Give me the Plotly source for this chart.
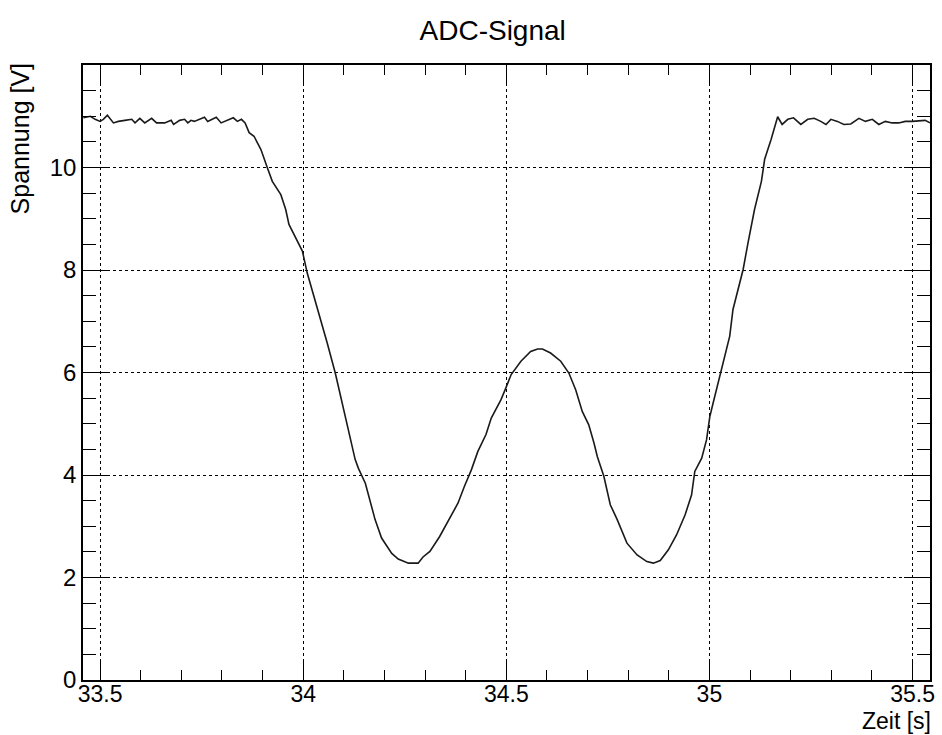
import plotly.graph_objects as go

# Data
zeit = [
    33.459, 33.476, 33.488, 33.500, 33.508, 33.518, 33.533, 33.545, 33.561, 33.578,
    33.586, 33.598, 33.610, 33.627, 33.639, 33.659, 33.675, 33.681, 33.696, 33.708,
    33.716, 33.724, 33.732, 33.745, 33.757, 33.765, 33.777, 33.786, 33.798, 33.814,
    33.828, 33.838, 33.848, 33.857,
    33.867, 33.879, 33.896, 33.912, 33.924, 33.945, 33.957, 33.965, 33.981, 33.998,
    34.010, 34.034, 34.059, 34.079, 34.100, 34.116, 34.128, 34.136, 34.153, 34.177,
    34.193, 34.218, 34.234, 34.259, 34.283, 34.295, 34.312, 34.336, 34.357, 34.381,
    34.397, 34.414, 34.430, 34.450, 34.463, 34.487, 34.499, 34.512, 34.536, 34.560,
    34.577, 34.589, 34.609, 34.634, 34.654, 34.671, 34.687, 34.703, 34.716, 34.724,
    34.740, 34.756, 34.773, 34.797, 34.822, 34.846, 34.862, 34.879, 34.899, 34.919,
    34.940, 34.956, 34.964, 34.981, 34.993, 35.001, 35.009, 35.025, 35.038, 35.050,
    35.058, 35.070, 35.083, 35.095, 35.111, 35.128, 35.136, 35.152, 35.168, 35.179,
    35.193, 35.207, 35.225, 35.242, 35.258, 35.274, 35.287, 35.299, 35.315, 35.331,
    35.348, 35.368, 35.384, 35.401, 35.417, 35.433, 35.450, 35.466, 35.482, 35.499,
    35.519, 35.531, 35.543,
]
spannung = [
    10.97, 11.00, 10.94, 10.90, 10.94, 11.02, 10.87, 10.90, 10.92, 10.94,
    10.87, 10.96, 10.87, 10.96, 10.87, 10.87, 10.92, 10.84, 10.92, 10.94,
    10.87, 10.92, 10.90, 10.94, 10.98, 10.90, 10.94, 10.98, 10.87, 10.92,
    10.97, 10.90, 10.94, 10.87,
    10.68, 10.61, 10.35, 9.99, 9.73, 9.47, 9.18, 8.89, 8.63, 8.37,
    7.94, 7.29, 6.58, 5.99, 5.27, 4.75, 4.30, 4.13, 3.84, 3.13,
    2.77, 2.47, 2.36, 2.28, 2.28, 2.40, 2.51, 2.80, 3.09, 3.45,
    3.78, 4.10, 4.46, 4.79, 5.11, 5.47, 5.70, 5.96, 6.22, 6.41,
    6.46, 6.46, 6.38, 6.22, 5.99, 5.66, 5.24, 4.98, 4.62, 4.36,
    3.98, 3.42, 3.13, 2.67, 2.44, 2.31, 2.28, 2.33, 2.54, 2.83,
    3.22, 3.61, 4.07, 4.33, 4.69, 5.14, 5.40, 5.92, 6.38, 6.71,
    7.23, 7.62, 8.01, 8.53, 9.18, 9.73, 10.16, 10.55, 10.99, 10.84,
    10.94, 10.97, 10.84, 10.94, 10.96, 10.90, 10.84, 10.94, 10.90, 10.84,
    10.85, 10.96, 10.90, 10.94, 10.84, 10.90, 10.87, 10.87, 10.90, 10.90,
    10.92, 10.92, 10.87,
]

x_ticks = [33.5, 34, 34.5, 35, 35.5]
x_tick_labels = ["33.5", "34", "34.5", "35", "35.5"]
y_ticks = [0, 2, 4, 6, 8, 10]
y_tick_labels = ["0", "2", "4", "6", "8", "10"]

FONT = "Liberation Sans, Arial, Helvetica, sans-serif"

fig = go.Figure()
fig.add_trace(go.Scatter(
    x=zeit, y=spannung, mode="lines",
    line=dict(color="#1a1a1a", width=1.6),
    showlegend=False, hoverinfo="skip",
))

fig.update_layout(
    width=942, height=735,
    margin=dict(l=83, r=7, t=65, b=55),
    paper_bgcolor="white", plot_bgcolor="white",
    font=dict(family=FONT, color="black"),
    title=dict(text="ADC-Signal", x=0.523, xanchor="center",
               y=1 - 30 / 735, yanchor="middle", yref="container",
               font=dict(size=28, family=FONT, color="black")),
)

fig.update_xaxes(
    range=[33.458, 35.543],
    tickmode="array", tickvals=x_ticks, ticktext=x_tick_labels,
    ticks="inside", ticklen=19, tickwidth=1.3, tickcolor="black",
    minor=dict(dtick=0.1, tick0=33.5, ticks="inside", ticklen=10,
               tickwidth=1.3, tickcolor="black", showgrid=False),
    showline=True, linecolor="black", linewidth=1.5, mirror="allticks",
    showgrid=True, gridcolor="black", gridwidth=1, griddash="dot",
    zeroline=False, ticklabelstandoff=-7,
    tickfont=dict(size=23, family=FONT, color="black"),
)
fig.update_yaxes(
    range=[0, 12],
    tickmode="array", tickvals=y_ticks, ticktext=y_tick_labels,
    ticks="inside", ticklen=26, tickwidth=1.3, tickcolor="black",
    minor=dict(dtick=0.5, tick0=0, ticks="inside", ticklen=13,
               tickwidth=1.3, tickcolor="black", showgrid=False),
    showline=True, linecolor="black", linewidth=1.5, mirror="allticks",
    showgrid=True, gridcolor="black", gridwidth=1, griddash="dot",
    zeroline=False,
    tickfont=dict(size=24, family=FONT, color="black"),
)

fig.add_annotation(
    text="Spannung [V]", textangle=-90,
    xref="paper", yref="paper", x=-(83 - 20) / 852, y=1.008,
    xanchor="center", yanchor="top", showarrow=False,
    font=dict(size=25, family=FONT, color="black"),
)
fig.add_annotation(
    text="Zeit [s]",
    xref="paper", yref="paper", x=1 + 3 / 852, y=-(721 - 680) / 615,
    xanchor="right", yanchor="middle", showarrow=False,
    font=dict(size=23, family=FONT, color="black"),
)

fig.write_html("out.html")
